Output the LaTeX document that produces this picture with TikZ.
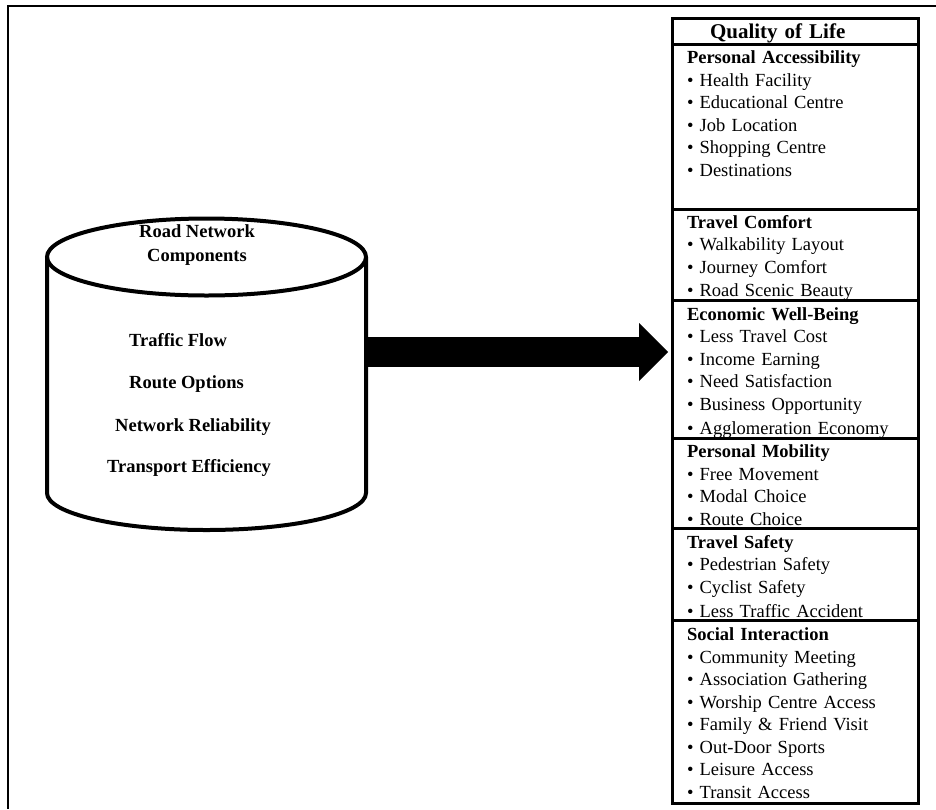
\documentclass[tikz,border=0pt]{standalone}
\usepackage{fontspec}
\setmainfont{Liberation Serif}
\usetikzlibrary{positioning,arrows.meta}
\newcommand\rowstrut{\rule[-3.5pt]{0pt}{22.5pt}}

\begin{document}
\begin{tikzpicture}[x=1pt,y=1pt,
  sect/.style={draw,line width=3pt,outer sep=0pt,inner xsep=15pt,inner ysep=0pt,
    text width=216pt,align=left,font=\fontsize{18.5}{22.5}\selectfont,
    execute at begin node=\rowstrut,execute at end node=\rowstrut},
  comp/.style={font=\fontsize{18.5}{24}\selectfont\bfseries,inner sep=0pt},
  bigarrow/.style={line width=30pt,-{Triangle[length=29pt,width=58pt,line width=0pt]}}]
\useasboundingbox (0,0) rectangle (936,-809);
\draw[line width=2.5pt] (936,-6) -- (8,-6) -- (8,-809);

% cylinder
\node (rnc) [minimum width=319pt,minimum height=236pt,inner sep=0pt,outer sep=0pt] at (206.5,-375) {};
\draw[line width=4pt] (rnc.north west) -- (rnc.south west)
  arc[start angle=180,end angle=360,x radius=159.5pt,y radius=37pt] -- (rnc.north east);
\draw[line width=4pt] (rnc.north) ellipse[x radius=159.5pt,y radius=38.5pt];
\node (rnchead) [comp,align=center] at (197,-245) {Road Network\\Components};
\node (flow) [comp,anchor=west] at (129,-340) {Traffic Flow};
\node (route) [comp,anchor=west] at (129,-384) {Route Options};
\node (reliab) [comp,anchor=west] at (115,-427) {Network Reliability};
\node (effic) [comp,anchor=west] at (107,-468) {Transport Efficiency};

% quality of life column
\node (qol) [sect,anchor=north,minimum height=26pt,font=\fontsize{21}{26}\selectfont\bfseries]
  at (795,-18) {\hspace*{23pt}Quality of Life};
\node (pa) [sect,below=0pt of qol,minimum height=165pt] {\textbf{Personal Accessibility}\\
  \textbullet{} Health Facility\\ \textbullet{} Educational Centre\\ \textbullet{} Job Location\\
  \textbullet{} Shopping Centre\\ \textbullet{} Destinations\\[6pt]~};
\node (tc) [sect,below=0pt of pa,minimum height=90pt] {\textbf{Travel Comfort}\\
  \textbullet{} Walkability Layout\\ \textbullet{} Journey Comfort\\ \textbullet{} Road Scenic Beauty};
\node (ew) [sect,below=0pt of tc,minimum height=138pt] {\textbf{Economic Well-Being}\\
  \textbullet{} Less Travel Cost\\ \textbullet{} Income Earning\\ \textbullet{} Need Satisfaction\\
  \textbullet{} Business Opportunity\\ \textbullet{} Agglomeration Economy};
\node (pm) [sect,below=0pt of ew,minimum height=90pt] {\textbf{Personal Mobility}\\
  \textbullet{} Free Movement\\ \textbullet{} Modal Choice\\ \textbullet{} Route Choice};
\node (ts) [sect,below=0pt of pm,minimum height=92pt] {\textbf{Travel Safety}\\
  \textbullet{} Pedestrian Safety\\ \textbullet{} Cyclist Safety\\ \textbullet{} Less Traffic Accident};
\node (si) [sect,below=0pt of ts,minimum height=182pt] {\textbf{Social Interaction}\\
  \textbullet{} Community Meeting\\ \textbullet{} Association Gathering\\ \textbullet{} Worship Centre Access\\
  \textbullet{} Family \& Friend Visit\\ \textbullet{} Out-Door Sports\\ \textbullet{} Leisure Access\\
  \textbullet{} Transit Access};

\draw[bigarrow,shorten >=4pt] ([yshift=23pt]rnc.east) -- ([yshift=23pt]rnc.east -| ew.west);
\end{tikzpicture}
\end{document}
